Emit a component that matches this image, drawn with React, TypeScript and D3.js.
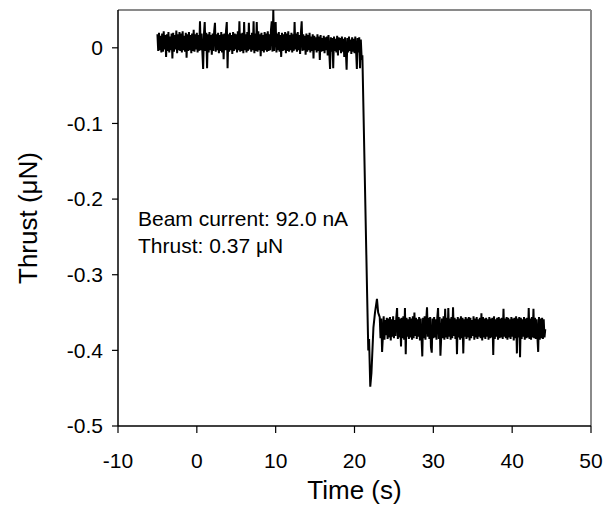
import React from "react";
import * as d3 from "d3";

// Pre-step noisy signal, thousandths of µN, sampled every 0.1 s from t = -5.0 s
const preStart = -5.0;
const preStep = 0.1;
const preValues = [
  18, -4, 20, -3, 16, -6, 19, -5, 22, -2,
  17, -12, 18, -4, 21, -6, 15, -3, 19, -14,
  20, -5, 17, -2, 23, -7, 18, -3, 21, -4,
  19, -6, 22, -3, 16, -5, 20, -13, 18, -4,
  21, -3, 17, -7, 19, -4, 24, -5, 18, -2,
  20, -6, 17, -4, 35, -3, 19, -5, -28, 18,
  34, -4, 20, -27, 18, -6, 21, -3, 17, -9,
  19, -4, 22, 33, -5, 18, -3, 20, -7, 17,
  -4, 21, -6, 18, -15, 19, -3, 22, 34, -27,
  18, -5, 20, -3, 17, -8, 21, -4, 19, -2,
  18, -6, 22, -3, 35, -5, 19, -4, 20, -7,
  34, -3, 18, -6, 21, -4, 33, -2, 17, -5,
  20, -3, 35, -7, 19, -4, 34, -5, 22, -3,
  18, -11, 20, -4, 17, -6, 21, -3, 19, -5,
  22, -4, 18, -3, 23, 35, -5, 50, -4, 20,
  34, -6, 19, -3, 21, -5, 17, -12, 20, -4,
  18, -3, 21, -7, 19, -4, 22, -5, 17, -3,
  20, -6, 18, -4, 34, -2, 19, -5, 21, -3,
  17, -8, 20, 35, -4, 18, -3, 16, -9, 19,
  -5, 17, -3, 20, -6, 15, -4, 18, -14, 16,
  -3, 14, -6, 18, -4, 15, -16, 17, -5, 13,
  -4, 16, -7, 14, -3, 15, -10, 17, -6, -28,
  14, -5, 13, -27, 15, -4, 12, -6, 16, -10,
  14, -3, 13, -7, 15, -5, 12, -12, 14, -4,
  -29, 13, -6, 15, -4, 11, -8, 14, -5, 12,
  -7, 15, -4, -28, 13, -6, 14, -27, 11, -12,
];

// Step transition
const transTimes = [21.0, 21.6, 21.75, 21.85, 22.0, 22.15, 22.4, 22.6, 22.85, 23.0];
const transValues = [-0.010, -0.325, -0.400, -0.385, -0.448, -0.430, -0.370, -0.350, -0.332, -0.350];

// Post-step noisy signal, thousandths of µN, every 0.1 s from t = 23.2 s
const postStart = 23.2;
const postStep = 0.1;
const postValues = [
  -356, -384, -358, -402, -382, -355, -386, -360, -380, -357,
  -385, -358, -383, -356, -387, -359, -382, -355, -384, -360,
  -381, -357, -344, -385, -356, -383, -358, -395, -357, -384,
  -355, -386, -344, -405, -357, -382, -359, -385, -356, -383,
  -358, -386, -355, -384, -350, -381, -357, -385, -359, -382,
  -356, -387, -358, -383, -408, -357, -384, -355, -386, -360,
  -343, -382, -357, -385, -356, -396, -403, -358, -384, -356,
  -383, -359, -386, -357, -344, -385, -356, -407, -382, -358,
  -384, -355, -386, -345, -383, -357, -385, -344, -382, -358,
  -386, -356, -384, -343, -381, -357, -385, -359, -405, -356,
  -383, -358, -386, -355, -384, -357, -404, -359, -382, -356,
  -385, -358, -383, -356, -387, -357, -384, -360, -381, -355,
  -386, -358, -383, -356, -385, -359, -382, -357, -384, -351,
  -387, -356, -383, -358, -385, -357, -382, -359, -386, -356,
  -384, -358, -383, -357, -406, -355, -385, -359, -382, -357,
  -386, -356, -384, -358, -383, -357, -385, -345, -382, -358,
  -384, -356, -386, -357, -383, -359, -385, -356, -382, -358,
  -387, -357, -384, -355, -404, -358, -383, -356, -409, -357,
  -385, -359, -382, -356, -386, -358, -384, -357, -383, -344,
  -385, -358, -386, -356, -383, -345, -384, -357, -385, -359,
  -382, -402, -356, -386, -358, -384, -357, -385, -359, -383,
  -372,
];

const xTicks = [-10, 0, 10, 20, 30, 40, 50];
const yTicks = [0, -0.1, -0.2, -0.3, -0.4, -0.5];
const xDomain = [-10, 50];
const yDomain = [-0.5, 0.05];

const annotationLines = ["Beam current: 92.0 nA", "Thrust: 0.37 μN"];

type Pt = [number, number];

export default function App() {
  const W = 607, H = 512;
  const left = 118, right = 591, top = 10, bottom = 426;
  const x = d3.scaleLinear().domain(xDomain).range([left, right]);
  const y = d3.scaleLinear().domain(yDomain).range([bottom, top]);

  const pts: Pt[] = [];
  preValues.forEach((v, i) => pts.push([preStart + i * preStep, v / 1000]));
  transTimes.forEach((t, i) => pts.push([t, transValues[i]]));
  postValues.forEach((v, i) => pts.push([postStart + i * postStep, v / 1000]));

  const line = d3.line<Pt>().x((d) => x(d[0])).y((d) => y(d[1]));
  const font = "Liberation Sans, Arial, Helvetica, sans-serif";

  return (
    <svg width={W} height={H} style={{ position: "absolute", left: 0, top: 0, background: "#fff" }} fontFamily={font}>
      {/* frame: gray top/right */}
      <line x1={left} x2={right} y1={top} y2={top} stroke="#8a8a8a" strokeWidth={2} />
      <line x1={right} x2={right} y1={top} y2={bottom} stroke="#8a8a8a" strokeWidth={2} />
      {/* data */}
      <path d={line(pts) || ""} fill="none" stroke="#000" strokeWidth={2} strokeLinejoin="miter" />
      {/* axes */}
      <line x1={left} x2={left} y1={top} y2={bottom} stroke="#000" strokeWidth={1.5} />
      <line x1={left} x2={right} y1={bottom} y2={bottom} stroke="#000" strokeWidth={1.5} />
      {yTicks.map((t) => (
        <g key={"y" + t}>
          <line x1={left - 6} x2={left} y1={y(t)} y2={y(t)} stroke="#000" strokeWidth={1.2} />
          <text x={left - 15} y={y(t)} dy="0.35em" textAnchor="end" fontSize={21}>
            {t === 0 ? "0" : d3.format(".1f")(t).replace("−", "-")}
          </text>
        </g>
      ))}
      {xTicks.map((t) => (
        <g key={"x" + t}>
          <line x1={x(t)} x2={x(t)} y1={bottom} y2={bottom + 7} stroke="#000" strokeWidth={1.2} />
          <text x={x(t)} y={468} textAnchor="middle" fontSize={21}>
            {String(t)}
          </text>
        </g>
      ))}
      <text x={(left + right) / 2} y={499} textAnchor="middle" fontSize={26}>Time (s)</text>
      <text transform={`translate(37,${(top + bottom) / 2}) rotate(-90)`} textAnchor="middle" fontSize={26}>
        Thrust (μN)
      </text>
      {annotationLines.map((s, i) => (
        <text key={s} x={138} y={226 + i * 27} fontSize={21}>{s}</text>
      ))}
    </svg>
  );
}
